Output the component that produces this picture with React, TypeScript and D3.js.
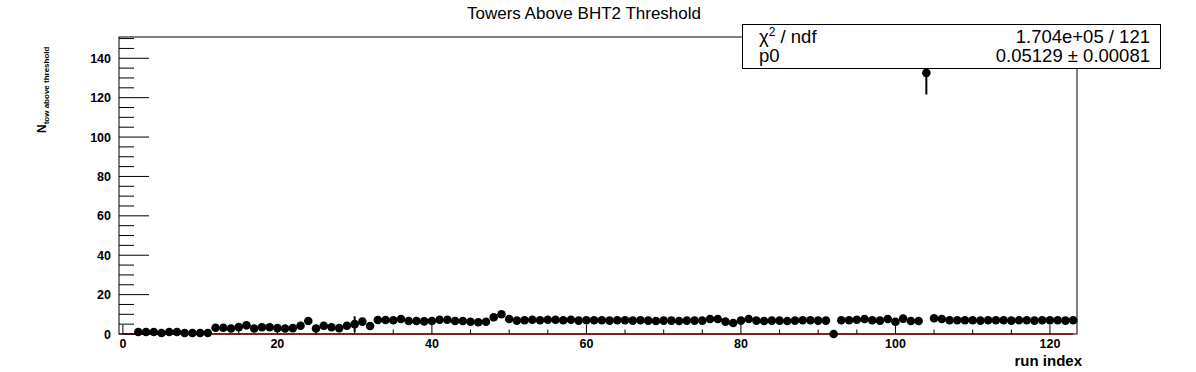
import React from 'react';
import * as d3 from 'd3';

// run index of the first filled bin
const firstRun = 2;

// N_tow above threshold per run (run index 2 .. 123)
const towCounts = [
  1, 1, 1, 0.5, 1, 1, 0.5, 0.5, 0.5, 0.5,
  3.2, 3.2, 2.8, 3.5, 4.4, 2.8, 3.4, 3.4, 3, 2.8,
  3, 4.2, 6.6, 2.8, 4.2, 3.4, 3, 4.2, 5, 6.3,
  4.1, 7.1, 7.1, 7, 7.6, 6.6, 6.6, 6.4, 6.6, 7.2,
  7.2, 6.6, 6.6, 6.2, 6, 6.2, 8.5, 10, 7.6, 6.8,
  7, 7.2, 7, 7.2, 7.2, 7, 7.2, 6.8, 7, 7,
  7, 6.8, 7, 7, 6.8, 7, 6.8, 6.6, 6.8, 6.8,
  6.6, 6.8, 6.8, 6.8, 7.6, 7.6, 6.3, 5.6, 6.8, 7.6,
  6.8, 6.6, 6.8, 6.8, 6.6, 6.8, 7, 7, 6.8, 6.8,
  0, 7, 7, 7.2, 7.6, 7, 6.8, 7.6, 6.2, 7.8,
  6.6, 6.6, 132.6, 8, 7.6, 7, 7, 7, 7, 6.8,
  7, 7, 7, 6.8, 7, 7, 6.8, 7, 7, 7,
  6.8, 7,
];

// error bars large enough to show beside the marker (run index, error)
const visibleErrors: [number, number][] = [
  [30, 4],
  [104, 11],
];

// constant fit
const fitP0 = 0.05129;
const fitRange = [0, 123];

const xTicks = [0, 20, 40, 60, 80, 100, 120];
const yTicks = [0, 20, 40, 60, 80, 100, 120, 140];

const statRows = [
  ['χ² / ndf', '1.704e+05 / 121'],
  ['p0', '0.05129 ± 0.00081'],
];

const W = 1196;
const H = 372;
const frame = { left: 119, right: 1077, top: 37, bottom: 334 };
const statBox = { left: 742, right: 1160, top: 24, bottom: 68 };
const font = '"Liberation Sans", Arial, Helvetica, sans-serif';

export default function App() {
  const x = d3.scaleLinear().domain([-0.5, 123.5]).range([frame.left, frame.right]);
  const y = d3.scaleLinear().domain([0, 150.8]).range([frame.bottom, frame.top]);

  const xMinor = d3.range(0, 124, 5).filter((v) => v % 20 !== 0);
  const yMinor = d3.range(0, 151, 5).filter((v) => v % 20 !== 0);

  const points = towCounts.map((v, i) => ({ run: firstRun + i, v }));
  const errMap = new Map(visibleErrors);

  const fitLine = d3.line<number>()
    .x((d) => x(d))
    .y(() => y(fitP0));

  return (
    <svg width={W} height={H} style={{ position: 'absolute', left: 0, top: 0, background: '#fff' }}
      fontFamily={font}>
      <rect x={0} y={0} width={W} height={H} fill="#fff" />

      {/* title */}
      <text x={584} y={19} textAnchor="middle" fontSize={17}>Towers Above BHT2 Threshold</text>

      {/* fit */}
      <path d={fitLine(fitRange) || ''} stroke="#ff0000" strokeWidth={1.5} fill="none" />

      {/* error bars */}
      {points.map((p) => {
        const e = errMap.get(p.run);
        if (!e) return null;
        return (
          <line key={'e' + p.run} x1={x(p.run)} x2={x(p.run)} y1={y(p.v - e)} y2={y(p.v + e)}
            stroke="#000" strokeWidth={2} />
        );
      })}

      {/* markers */}
      {points.map((p) => (
        <circle key={p.run} cx={x(p.run)} cy={y(p.v)} r={4.3} fill="#000" />
      ))}

      {/* frame */}
      <rect x={frame.left} y={frame.top} width={frame.right - frame.left} height={frame.bottom - frame.top}
        fill="none" stroke="#000" strokeWidth={1} />

      {/* y axis ticks */}
      {yTicks.map((t) => (
        <g key={'y' + t}>
          <line x1={frame.left} x2={frame.left + 30} y1={y(t)} y2={y(t)} stroke="#000" />
          <text x={111} y={y(t) + 4.5} textAnchor="end" fontSize={12.5} fontWeight="bold">{t}</text>
        </g>
      ))}
      {yMinor.map((t) => (
        <line key={'ym' + t} x1={frame.left} x2={frame.left + 15} y1={y(t)} y2={y(t)} stroke="#000" />
      ))}

      {/* x axis ticks */}
      {xTicks.map((t) => (
        <g key={'x' + t}>
          <line x1={x(t)} x2={x(t)} y1={frame.bottom} y2={frame.bottom - 9} stroke="#000" />
          <text x={x(t)} y={348} textAnchor="middle" fontSize={12.5} fontWeight="bold">{t}</text>
        </g>
      ))}
      {xMinor.map((t) => (
        <line key={'xm' + t} x1={x(t)} x2={x(t)} y1={frame.bottom} y2={frame.bottom - 4.5} stroke="#000" />
      ))}

      {/* axis titles */}
      <text x={1082} y={366} textAnchor="end" fontSize={15} fontWeight="bold">run index</text>
      <text transform="translate(46,133) rotate(-90)" fontSize={12} fontWeight="bold">
        N<tspan fontSize={8} dy={3}>tow above threshold</tspan>
      </text>

      {/* stats box */}
      <rect x={statBox.left + 0.5} y={statBox.top + 0.5} width={statBox.right - statBox.left}
        height={statBox.bottom - statBox.top} fill="#fff" stroke="#000" strokeWidth={1} />
      {statRows.map((r, i) => (
        <g key={r[0]}>
          <text x={759} y={43 + i * 19} fontSize={18.5}>
            {i === 0 ? (<>χ<tspan fontSize={12} dy={-7}>2</tspan><tspan dy={7}> / ndf</tspan></>) : r[0]}
          </text>
          <text x={1150} y={43 + i * 19} textAnchor="end" fontSize={18.5}>{r[1]}</text>
        </g>
      ))}
    </svg>
  );
}
